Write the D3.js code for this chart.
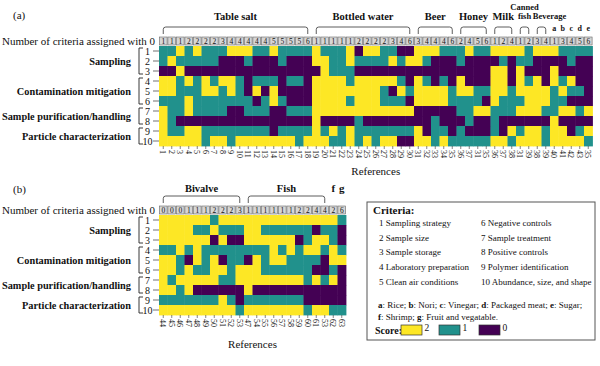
<!DOCTYPE html>
<html><head><meta charset="utf-8">
<script src="https://cdn.jsdelivr.net/npm/d3@7"></script>
<style>
body{margin:0;background:#fff}
svg{display:block}
</style>
</head><body>
<svg id="chart" width="600" height="366" font-family="'Liberation Serif', 'DejaVu Serif', serif"></svg>
<script>
// ---------- DATA ----------
const scoreColors = {0:"#440154", 1:"#21918C", 2:"#FDE725"};
const rowTicks = ["1","2","3","4","5","6","7","8","9","10"];
const criteriaGroups = [
  {name:"Sampling", from:0, to:2},
  {name:"Contamination mitigation", from:3, to:5},
  {name:"Sample purification/handling", from:6, to:7},
  {name:"Particle characterization", from:8, to:9}
];

// Panel (a)
const categoriesA = [
  {name:"Table salt", from:0, to:17},
  {name:"Bottled water", from:18, to:29},
  {name:"Beer", from:30, to:34},
  {name:"Honey", from:35, to:38},
  {name:"Milk", from:39, to:41},
  {name:"Canned\nfish", from:42, to:43, small:true},
  {name:"Beverage", from:44, to:45, small:true, shift:8}
];
const letterColsA = [{name:"a",col:46},{name:"b",col:47},{name:"c",col:48},{name:"d",col:49},{name:"e",col:50}];
const zerosA = [1,1,1,2,2,2,2,3,4,4,4,4,4,5,5,5,5,6, 1,1,1,1,1,2,2,2,2,3,4,6, 3,4,4,4,6, 2,4,5,6, 1,2,4, 1,2, 3,4, 1,3,4,5,6];
const refsA = ["1","2","3","4","5","6","7","8","9","10","11","12","13","14","15","16","17","18",
  "19","20","21","22","23","24","25","26","27","28","29","30",
  "31","32","33","34","35","36","37","31","35","36","37","38","31","39","38","39","40","41","42","43","35"];
const scoresA = [
  [1,1,2,1,2,1,1,1,2,2, 2,1,1,2,1,1,1,1,2,1, 1,1,2,0,2,2,1,1,0,0, 2,2,2,1,1,1,2,1,1,2, 2,2,2,1,2,2,2,1,1,1, 1],
  [1,2,1,1,1,1,1,0,0,0, 1,0,0,0,1,0,0,0,2,2, 1,1,2,1,1,1,1,2,1,2, 2,1,0,0,0,1,0,0,0,0, 1,0,1,1,0,0,0,0,1,0, 0],
  [0,0,2,0,0,0,0,0,0,0, 0,0,0,0,0,0,0,0,0,2, 1,1,1,0,0,0,0,0,0,0, 0,0,0,0,0,0,0,0,0,2, 2,0,2,0,0,0,2,0,0,0, 0],
  [2,2,1,2,1,2,1,2,2,1, 0,1,1,1,0,1,1,0,2,2, 2,2,1,2,2,2,2,2,1,0, 2,1,0,1,0,2,0,0,0,2, 2,0,2,1,2,0,2,1,2,0, 0],
  [2,2,1,1,1,2,2,1,2,1, 0,2,0,2,0,0,0,0,2,2, 2,2,2,2,2,2,1,0,2,1, 2,2,2,2,1,2,2,1,1,2, 2,1,2,2,2,2,1,2,1,1, 0],
  [1,1,1,2,1,1,1,1,1,1, 1,0,1,2,1,0,0,0,2,2, 2,2,1,2,2,2,1,1,1,0, 2,2,2,2,1,1,1,1,0,2, 1,1,1,2,2,2,1,1,0,0, 0],
  [2,1,1,2,1,1,1,1,0,0, 1,1,1,0,0,1,1,1,2,2, 2,2,2,2,2,2,2,2,2,2, 0,0,0,0,0,1,1,2,2,1, 1,1,2,2,2,1,1,2,2,1, 2],
  [2,1,0,0,0,0,0,0,0,0, 0,0,0,0,0,0,0,0,2,0, 0,0,0,1,0,0,0,0,0,0, 0,0,1,0,0,0,1,0,0,1, 0,0,0,0,0,0,2,0,0,0, 0],
  [2,1,1,2,2,1,1,1,1,1, 1,1,1,0,1,1,1,1,2,1, 2,1,2,1,1,1,1,1,1,1, 2,0,1,1,0,1,0,0,0,1, 0,2,1,2,2,1,2,2,0,1, 2],
  [2,2,2,2,2,1,2,2,1,2, 2,2,2,2,2,2,1,2,2,2, 1,1,2,1,2,1,2,2,0,0, 2,2,1,2,1,1,1,1,1,2, 2,1,2,2,2,1,2,2,2,2, 1]
];

// Panel (b)
const categoriesB = [
  {name:"Bivalve", from:0, to:9},
  {name:"Fish", from:10, to:19}
];
const letterColsB = [{name:"f",col:20},{name:"g",col:21}];
const zerosB = [0,0,0,1,1,1,2,2,2,3, 1,1,1,1,1,1,2,2,4,4, 2, 6];
const refsB = ["44","45","46","47","48","49","50","51","52","53",
  "47","54","55","56","57","58","59","60","61","53","62","63"];
const scoresB = [
  [2,2,2,2,2,2,1,2,2,2, 2,2,2,2,2,2,2,2,2,2, 2,1],
  [2,2,2,2,1,1,2,1,1,1, 2,2,1,1,1,1,1,1,0,1, 1,0],
  [2,2,2,2,2,2,0,2,0,0, 2,2,2,2,2,2,0,1,2,2, 1,0],
  [1,1,2,1,2,1,1,1,1,1, 1,1,1,2,1,2,1,2,2,1, 2,1],
  [2,2,1,0,2,1,2,0,1,1, 0,2,1,2,2,1,1,1,1,0, 2,2],
  [2,2,1,2,1,1,2,2,1,2, 2,2,1,1,1,1,1,1,0,0, 1,0],
  [2,1,2,2,2,2,2,1,1,2, 2,2,2,2,2,2,2,1,2,1, 2,0],
  [2,2,1,2,0,0,0,0,0,0, 2,0,0,0,0,0,0,0,0,0, 0,0],
  [1,1,1,1,1,1,1,2,1,0, 1,1,1,1,1,1,1,0,0,0, 0,0],
  [2,2,2,2,2,2,2,2,2,1, 2,2,2,2,2,2,2,1,2,2, 1,1]
];

// Legend
const criteriaList = [
  ["1 Sampling strategy","6 Negative controls"],
  ["2 Sample size","7 Sample treatment"],
  ["3 Sample storage","8 Positive controls"],
  ["4 Laboratory preparation","9 Polymer identification"],
  ["5 Clean air conditions","10 Abundance, size, and shape"]
];
const footLine1 = [["a",": Rice; "],["b",": Nori; "],["c",": Vinegar; "],["d",": Packaged meat; "],["e",": Sugar;"]];
const footLine2 = [["f",": Shrimp; "],["g",": Fruit and vegatable."]];
const scoreLegend = [2,1,0];

// ---------- DRAW ----------
const svg = d3.select("#chart");
const X0 = 159, CW = 8.5, RH = 10;
const INK = "#111";

function drawPanel(cfg){
  const n = cfg.zeros.length;
  const g = svg.append("g").attr("fill",INK);
  const x = d3.scaleBand().domain(d3.range(n)).range([X0, X0 + n*CW]);
  const y = d3.scaleBand().domain(d3.range(10)).range([cfg.top, cfg.top + 10*RH]);
  const cx = i => x(i) + x.bandwidth()/2;

  g.append("text").attr("x",13).attr("y",cfg.panelY).attr("font-size",11).text(cfg.panelLabel);

  const cells = [];
  cfg.scores.forEach((row,r)=>row.forEach((v,c)=>cells.push({r,c,v})));
  g.append("g").selectAll("rect").data(cells).join("rect")
    .attr("x",d=>x(d.c)).attr("y",d=>y(d.r))
    .attr("width",x.bandwidth()+0.4).attr("height",y.bandwidth()+0.4)
    .attr("fill",d=>scoreColors[d.v]);

  const hy = cfg.top - 9;
  g.append("text").attr("x",155).attr("y",hy+4).attr("dy","0.35em")
    .attr("text-anchor","end").attr("font-size",11)
    .text("Number of criteria assigned with 0");
  const hb = g.append("g").selectAll("g").data(cfg.zeros).join("g");
  hb.append("rect").attr("x",(d,i)=>x(i)+0.4).attr("y",hy)
    .attr("width",x.bandwidth()-0.8).attr("height",8)
    .attr("fill","#d6d6d6").attr("stroke","#666").attr("stroke-width",0.6);
  hb.append("text").attr("x",(d,i)=>cx(i)).attr("y",hy+4).attr("dy","0.35em")
    .attr("text-anchor","middle").attr("font-size",7.5).text(d=>d);

  const yl = cfg.top - 19, ye = cfg.top - 12;
  cfg.categories.forEach(cat=>{
    const x1 = cx(cat.from), x2 = cx(cat.to);
    const rr = Math.min(2.5,(x2-x1)/2);
    g.append("path")
      .attr("d",`M${x1},${ye} V${yl+rr} Q${x1},${yl} ${x1+rr},${yl} H${x2-rr} Q${x2},${yl} ${x2},${yl+rr} V${ye}`)
      .attr("fill","none").attr("stroke","#333").attr("stroke-width",0.8);
    const mid = (x1+x2)/2 + (cat.shift||0);
    const lines = cat.name.split("\n");
    const fs = cat.small ? 8.5 : 10.5;
    lines.forEach((ln,k)=>{
      g.append("text").attr("x",mid).attr("y",(cat.small?cfg.catY-1:cfg.catY) - (lines.length-1-k)*9)
        .attr("text-anchor","middle").attr("font-size",fs).attr("font-weight","bold").text(ln);
    });
  });
  cfg.letters.forEach(l=>{
    g.append("text").attr("x",cx(l.col)).attr("y",cfg.letterY)
      .attr("text-anchor","middle").attr("font-size",cfg.letterSize).attr("font-weight","bold").text(l.name);
  });

  rowTicks.forEach((t,r)=>{
    const yc = y(r)+RH/2;
    g.append("line").attr("x1",153).attr("x2",159).attr("y1",yc).attr("y2",yc)
      .attr("stroke","#333").attr("stroke-width",0.7);
    g.append("text").attr("x",147.5).attr("y",yc).attr("dy","0.35em")
      .attr("text-anchor","middle").attr("font-size",10).text(t);
  });
  criteriaGroups.forEach(gr=>{
    const y1 = y(gr.from)+2, y2 = y(gr.to)+RH-2;
    g.append("path").attr("d",`M143,${y1} H139 V${y2} H143`)
      .attr("fill","none").attr("stroke","#222").attr("stroke-width",0.9);
    g.append("text").attr("x",131).attr("y",(y1+y2)/2).attr("dy","0.35em")
      .attr("text-anchor","end").attr("font-size",10.3).attr("font-weight","bold").text(gr.name);
  });

  const bottom = cfg.top + 10*RH;
  g.append("g").selectAll("line").data(cfg.refs).join("line")
    .attr("x1",(d,i)=>cx(i)).attr("x2",(d,i)=>cx(i))
    .attr("y1",bottom).attr("y2",bottom+3).attr("stroke","#333").attr("stroke-width",0.6);
  g.append("g").selectAll("text").data(cfg.refs).join("text")
    .attr("transform",(d,i)=>`translate(${cx(i)},${bottom+4}) rotate(90)`)
    .attr("dy","0.35em").attr("font-size",8).text(d=>d);
  g.append("text").attr("x",(X0 + X0+n*CW)/2).attr("y",cfg.refY)
    .attr("text-anchor","middle").attr("font-size",11).text("References");
}

drawPanel({top:46, panelLabel:"(a)", panelY:19, zeros:zerosA, refs:refsA, scores:scoresA,
  categories:categoriesA, letters:letterColsA, catY:20, letterY:31, letterSize:8, refY:175});
drawPanel({top:215, panelLabel:"(b)", panelY:193, zeros:zerosB, refs:refsB, scores:scoresB,
  categories:categoriesB, letters:letterColsB, catY:192, letterY:192, letterSize:11, refY:348});

// ---------- LEGEND ----------
const lg = svg.append("g").attr("fill",INK);
lg.append("rect").attr("x",367).attr("y",202).attr("width",228).attr("height",138)
  .attr("fill","#fff").attr("stroke","#555").attr("stroke-width",1);
lg.append("text").attr("x",373).attr("y",214).attr("font-size",11).attr("font-weight","bold").text("Criteria:");
const itemY = [223,237.5,252,266.5,281.5];
criteriaList.forEach((pair,i)=>{
  lg.append("text").attr("x",379).attr("y",itemY[i]).attr("dy","0.35em").attr("font-size",9).text(pair[0]);
  lg.append("text").attr("x",481).attr("y",itemY[i]).attr("dy","0.35em").attr("font-size",9).text(pair[1]);
});
[[footLine1,305],[footLine2,316.5]].forEach(([parts,yy])=>{
  const t = lg.append("text").attr("x",378).attr("y",yy).attr("dy","0.35em").attr("font-size",9);
  parts.forEach(([b,rest])=>{
    t.append("tspan").attr("font-weight","bold").text(b);
    t.append("tspan").text(rest);
  });
});
lg.append("text").attr("x",375).attr("y",330).attr("dy","0.35em").attr("font-size",10).attr("font-weight","bold").text("Score:");
const swX = d3.scaleOrdinal().domain(scoreLegend).range([401,439,479]);
scoreLegend.forEach(s=>{
  lg.append("rect").attr("x",swX(s)).attr("y",325).attr("width",21).attr("height",10)
    .attr("fill",scoreColors[s]).attr("stroke","#333").attr("stroke-width",0.7);
  lg.append("text").attr("x",swX(s)+23.5).attr("y",328).attr("dy","0.35em").attr("font-size",9.5).text(s);
});
</script>
</body></html>
